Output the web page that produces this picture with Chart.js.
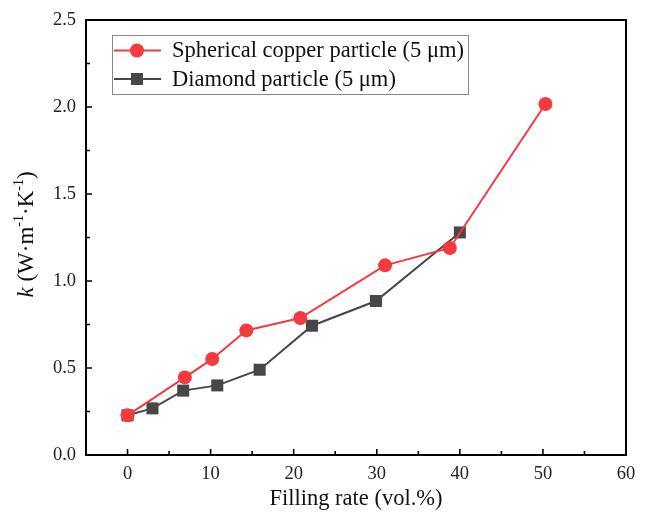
<!DOCTYPE html>
<html>
<head>
<meta charset="utf-8">
<script src="https://cdn.jsdelivr.net/npm/chart.js@4"></script>
<style>
html,body{margin:0;padding:0;background:#fff;}
#wrap{width:646px;height:514px;position:relative;}
</style>
</head>
<body>
<div id="wrap"><canvas id="c" width="646" height="514"></canvas></div>
<script>
const copperLabel = 'Spherical copper particle (5 \u03BCm)';
const copperX = [0, 6.9, 10.2, 14.3, 20.8, 31.0, 38.8, 50.3];
const copperY = [0.228, 0.446, 0.552, 0.716, 0.787, 1.09, 1.19, 2.017];
const diamondLabel = 'Diamond particle (5 \u03BCm)';
const diamondX = [0, 3.0, 6.7, 10.8, 15.9, 22.2, 29.9, 40.0];
const diamondY = [0.228, 0.268, 0.37, 0.40, 0.49, 0.743, 0.885, 1.279];
const xTicks = [0, 10, 20, 30, 40, 50, 60];
const yTicks = [0.0, 0.5, 1.0, 1.5, 2.0, 2.5];
const xTitle = 'Filling rate (vol.%)';

const RED = '#F53A3F';
const GREY = '#474747';
const SERIF = '"Liberation Serif", "Times New Roman", serif';

function pts(xs, ys){ return xs.map((x,i)=>({x:x, y:ys[i]})); }

const framePlugin = {
  id: 'frame',
  afterDraw(chart){
    const ctx = chart.ctx;
    const a = chart.chartArea;
    const xs = chart.scales.x, ys = chart.scales.y;
    ctx.save();
    ctx.strokeStyle = '#000';
    ctx.lineWidth = 2;
    ctx.strokeRect(a.left, a.top, a.right - a.left, a.bottom - a.top);
    // inward ticks
    ctx.lineWidth = 1.6;
    ctx.beginPath();
    for (let v = 0; v <= 60; v += 5) {
      const px = xs.getPixelForValue(v);
      const len = (v % 10 === 0) ? 6 : 4;
      ctx.moveTo(px, a.bottom); ctx.lineTo(px, a.bottom - len);
    }
    for (let v = 0; v <= 2.5001; v += 0.25) {
      const py = ys.getPixelForValue(v);
      const len = (Math.round(v*100) % 50 === 0) ? 6 : 4;
      ctx.moveTo(a.left, py); ctx.lineTo(a.left + len, py);
    }
    ctx.stroke();

    // y-axis title with italic k and superscripts
    ctx.translate(27, (a.top + a.bottom) / 2 - 3);
    ctx.rotate(-Math.PI / 2);
    const parts = [
      {t:'k', f:'italic 23px ' + SERIF, dy:0},
      {t:' (W\u00B7m', f:'23px ' + SERIF, dy:0},
      {t:'-1', f:'14px ' + SERIF, dy:-8},
      {t:'\u00B7K', f:'23px ' + SERIF, dy:0},
      {t:'-1', f:'14px ' + SERIF, dy:-8},
      {t:')', f:'23px ' + SERIF, dy:0}
    ];
    let total = 0;
    parts.forEach(p => { ctx.font = p.f; p.w = ctx.measureText(p.t).width; total += p.w; });
    let cx = -total / 2;
    ctx.fillStyle = '#111';
    ctx.textBaseline = 'middle';
    ctx.textAlign = 'left';
    parts.forEach(p => { ctx.font = p.f; ctx.fillText(p.t, cx, p.dy); cx += p.w; });
    ctx.restore();

    // legend
    ctx.save();
    ctx.strokeStyle = '#888';
    ctx.lineWidth = 1;
    ctx.strokeRect(112.5, 35.5, 356, 59);
    const rows = [
      {label: chart.data.datasets[0].label, color: RED, style:'circle', y: 50.5},
      {label: chart.data.datasets[1].label, color: GREY, style:'rect', y: 79}
    ];
    rows.forEach(r => {
      ctx.strokeStyle = r.color; ctx.lineWidth = 2;
      ctx.beginPath(); ctx.moveTo(114, r.y); ctx.lineTo(161, r.y); ctx.stroke();
      ctx.fillStyle = r.color;
      if (r.style === 'circle') { ctx.beginPath(); ctx.arc(137, r.y, 7, 0, Math.PI*2); ctx.fill(); }
      else { ctx.fillRect(131, r.y - 6, 12, 12); }
      ctx.fillStyle = '#111';
      ctx.font = '22.5px ' + SERIF;
      ctx.textBaseline = 'middle';
      ctx.fillText(r.label, 172, r.y + 1);
    });
    ctx.restore();
  }
};

new Chart(document.getElementById('c'), {
  type: 'scatter',
  data: {
    datasets: [
      {label: copperLabel, data: pts(copperX, copperY), showLine: true,
       borderColor: RED, backgroundColor: RED, borderWidth: 2,
       pointStyle: 'circle', pointRadius: 7, pointHoverRadius: 7, pointBorderWidth: 0},
      {label: diamondLabel, data: pts(diamondX, diamondY), showLine: true,
       borderColor: GREY, backgroundColor: GREY, borderWidth: 2,
       pointStyle: 'rect', pointRadius: 8.5, pointHoverRadius: 8.5, pointBorderWidth: 0}
    ]
  },
  options: {
    responsive: false,
    animation: false,
    layout: {padding: {top: 20, right: 20, left: 0, bottom: 0}},
    plugins: {legend: {display: false}, tooltip: {enabled: false}},
    scales: {
      x: {
        type: 'linear', min: -5, max: 60,
        grid: {display: false},
        border: {display: false},
        afterBuildTicks(s){ s.ticks = xTicks.map(v => ({value: v})); },
        afterFit(s){ s.height = 59; },
        ticks: {color: '#222', padding: 0, font: {family: SERIF, size: 18.5},
                callback: v => String(v), maxRotation: 0},
        title: {display: true, text: xTitle, color: '#111', padding: {top: 0, bottom: 1},
                font: {family: SERIF, size: 22.5}}
      },
      y: {
        type: 'linear', min: 0, max: 2.5,
        grid: {display: false},
        border: {display: false},
        afterBuildTicks(s){ s.ticks = yTicks.map(v => ({value: v})); },
        afterFit(s){ s.width = 86; },
        ticks: {color: '#222', padding: 2, font: {family: SERIF, size: 18.5},
                callback: v => Number(v).toFixed(1)}
      }
    }
  },
  plugins: [framePlugin]
});
</script>
</body>
</html>
